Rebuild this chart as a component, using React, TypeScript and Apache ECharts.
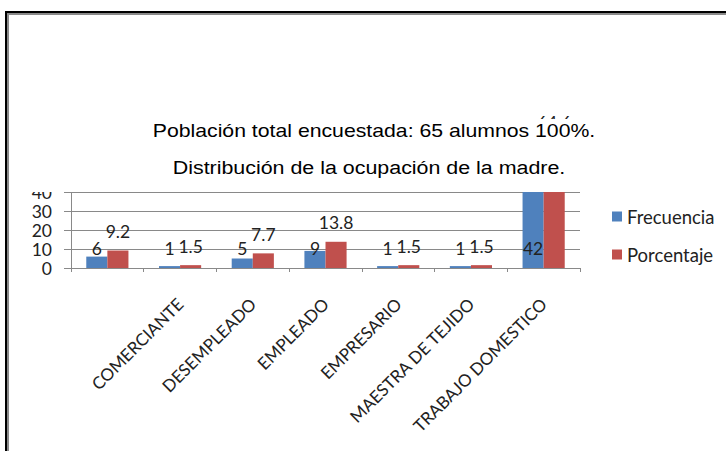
import React, { useEffect, useRef } from "react";
import * as echarts from "echarts";

const categories = ["", "COMERCIANTE", "DESEMPLEADO", "EMPLEADO", "EMPRESARIO", "MAESTRA DE TEJIDO", "TRABAJO DOMESTICO"];
const frecuencia = [6, 1, 5, 9, 1, 1, 42];
const porcentaje = [9.2, 1.5, 7.7, 13.8, 1.5, 1.5, 64.6];
const seriesNames = ["Frecuencia", "Porcentaje"];
const titleLines = ["Población total encuestada: 65 alumnos 100%.", "Distribución de la ocupación de la madre."];
const yMin = 0;
const yMax = 40;
const yInterval = 10;

const FONT = "Lato";
const GRAY = "#898989";
const TXT = "#222";

export default function App() {
  const ref = useRef<HTMLDivElement>(null);
  useEffect(() => {
    if (!ref.current) return;
    const chart = echarts.init(ref.current, null, { renderer: "svg" });
    chart.setOption({
      animation: false,
      backgroundColor: "#fff",
      color: ["#4F81BD", "#C0504D"],
      grid: { left: 71, right: 146, top: 192, bottom: 183, containLabel: false },
      legend: {
        data: seriesNames,
        orient: "vertical",
        left: 612,
        top: 206,
        padding: 0,
        itemWidth: 10,
        itemHeight: 10,
        itemGap: 17,
        icon: "rect",
        textStyle: { fontFamily: FONT, fontSize: 18.5, color: TXT, lineHeight: 21 },
      },
      xAxis: {
        type: "category",
        data: categories,
        axisLine: { lineStyle: { color: GRAY, width: 1 } },
        axisTick: { show: true, length: 4, lineStyle: { color: GRAY } },
        axisLabel: { rotate: 45, margin: 33, interval: 0, fontFamily: FONT, fontSize: 17, color: TXT },
      },
      yAxis: {
        type: "value",
        min: yMin,
        max: yMax,
        interval: yInterval,
        axisLine: { show: true, lineStyle: { color: GRAY, width: 1 } },
        axisTick: { show: true, length: 7, lineStyle: { color: GRAY } },
        splitLine: { lineStyle: { color: GRAY, width: 1 } },
        axisLabel: { margin: 19, fontFamily: FONT, fontSize: 17.5, color: TXT },
      },
      series: [
        {
          name: seriesNames[0],
          type: "bar",
          data: frecuencia,
          barGap: "0%",
          barCategoryGap: "42%",
          label: {
            show: true,
            position: "insideBottom",
            distance: 11,
            fontFamily: FONT,
            fontSize: 17.5,
            lineHeight: 18,
            color: TXT,
          },
        },
        {
          name: seriesNames[1],
          type: "bar",
          data: porcentaje.map((v, i) =>
            i === porcentaje.length - 1 ? { value: v, label: { offset: [0, -51] } } : v
          ),
          barGap: "0%",
          barCategoryGap: "42%",
          label: {
            show: true,
            position: "top",
            distance: 10,
            fontFamily: FONT,
            fontSize: 17.5,
            lineHeight: 18,
            color: TXT,
          },
        },
      ],
      graphic: [
        { type: "rect", z: 100, shape: { x: 20, y: 119, width: 580, height: 73 }, style: { fill: "#fff" } },
        {
          type: "text",
          z: 101,
          x: 374,
          y: 131,
          scaleX: 1.18,
          style: { text: titleLines[0], x: 0, y: 0, textAlign: "center", textVerticalAlign: "middle", fontFamily: "Liberation Sans", fontSize: 18, fill: "#000" },
        },
        {
          type: "text",
          z: 101,
          x: 369,
          y: 168,
          scaleX: 1.19,
          style: { text: titleLines[1], x: 0, y: 0, textAlign: "center", textVerticalAlign: "middle", fontFamily: "Liberation Sans", fontSize: 18, fill: "#000" },
        },
        { type: "rect", z: 102, shape: { x: 6, y: 12, width: 800, height: 600 }, style: { fill: "none", stroke: "#000", lineWidth: 2 } },
        { type: "rect", z: 102, shape: { x: 8, y: 14, width: 800, height: 600 }, style: { fill: "none", stroke: "#8a8a8a", lineWidth: 2 } },
      ],
    });
    return () => chart.dispose();
  }, []);
  return <div ref={ref} style={{ position: "fixed", left: 0, top: 0, width: 726, height: 451 }} />;
}
